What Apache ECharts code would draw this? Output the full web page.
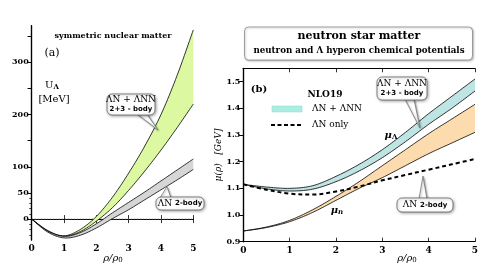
<!DOCTYPE html>
<html><head><meta charset="utf-8">
<script src="https://cdn.jsdelivr.net/npm/echarts@6/dist/echarts.min.js"></script>
<style>html,body{margin:0;padding:0;background:#fff}#c{width:491px;height:276px}</style>
</head><body><div id="c"></div>
<script>
// ---- Panel (a): symmetric nuclear matter, U_Lambda [MeV]
var rhoA = [0, 0.5, 1, 1.5, 2, 2.5, 3, 3.5, 4, 4.5, 5];
var grayLow   = [0, -25, -36, -31, -17, 1, 18, 37, 56, 75, 95];
var grayHigh  = [0, -23, -33, -26, -9, 12, 32, 52, 73, 94, 115];
var greenLow  = [0, -23, -33, -24, -4, 22, 55, 92, 132, 175, 220];
var greenHigh = [0, -22, -32, -20, 5, 42, 88, 140, 200, 275, 362];
var yTicksA = [0, 50, 100, 150, 200, 250, 300, 350];
var yLabelsA = [0, 50, 100, 200, 300];
var yMinorA = [-30, -20, -10, 10, 20, 30, 40];
// ---- Panel (b): neutron star matter, mu [GeV]
var rhoB = [0, 0.5, 1, 1.5, 2, 2.5, 3, 3.5, 4, 4.5, 5];
var lamLow  = [1.115, 1.098, 1.090, 1.097, 1.125, 1.165, 1.215, 1.275, 1.340, 1.400, 1.465];
var lamHigh = [1.115, 1.105, 1.100, 1.110, 1.145, 1.190, 1.245, 1.310, 1.380, 1.445, 1.510];
var lamOnly = [1.115, 1.095, 1.080, 1.077, 1.088, 1.107, 1.130, 1.150, 1.170, 1.190, 1.210];
var nLow    = [0.940, 0.953, 0.975, 1.010, 1.055, 1.100, 1.140, 1.185, 1.230, 1.270, 1.310];
var nHigh   = [0.940, 0.955, 0.980, 1.020, 1.070, 1.125, 1.185, 1.245, 1.305, 1.360, 1.415];
var yTicksB = [0.9, 1.0, 1.1, 1.2, 1.3, 1.4, 1.5];

function pairs(xs, ys){ return xs.map(function(x,i){return [x, ys[i]];}); }

var SERIF = "'DejaVu Serif', 'Liberation Serif', serif";
var SANS = "'DejaVu Sans', 'Liberation Sans', sans-serif";

// Catmull-Rom smoothing of pixel points (drawing only)
function crSample(pts, n){
  var out = [];
  for (var i = 0; i < pts.length - 1; i++){
    var p0 = pts[i-1] || pts[i], p1 = pts[i], p2 = pts[i+1], p3 = pts[i+2] || pts[i+1];
    for (var k = 0; k < n; k++){
      var t = k / n, t2 = t*t, t3 = t2*t;
      var f = function(a,b,c,d){ return 0.5*((2*b) + (-a+c)*t + (2*a-5*b+4*c-d)*t2 + (-a+3*b-3*c+d)*t3); };
      out.push([f(p0[0],p1[0],p2[0],p3[0]), f(p0[1],p1[1],p2[1],p3[1])]);
    }
  }
  out.push(pts[pts.length-1]);
  return out;
}

function band(xIdx, yIdx, xs, lo, hi, fill, z){
  return {type:'custom', xAxisIndex:xIdx, yAxisIndex:yIdx, z:z, clip:true,
    data: xs.map(function(x,i){return [x, lo[i], hi[i]];}),
    encode:{x:0, y:[1,2]},
    renderItem: function(params, api){
      if (params.dataIndex !== 0) return null;
      var L = crSample(xs.map(function(x,i){return api.coord([x, lo[i]]);}), 10);
      var H = crSample(xs.map(function(x,i){return api.coord([x, hi[i]]);}), 10);
      var poly = H.concat(L.slice().reverse());
      return {type:'group', children:[
        {type:'polygon', shape:{points:poly}, style:{fill:fill, stroke:null}},
        {type:'polyline', shape:{points:L}, style:{fill:null, stroke:'#000', lineWidth:0.8}},
        {type:'polyline', shape:{points:H}, style:{fill:null, stroke:'#000', lineWidth:0.8}}
      ]};
    }
  };
}

function callout(x, y, w, h, tip, base, lines){
  var els = [];
  els.push({type:'polygon', z:100, shape:{points:[[base[0], base[2]], tip, [base[1], base[2]]]},
    style:{fill:'#fff', stroke:'#777', lineWidth:0.8, shadowBlur:2, shadowColor:'rgba(0,0,0,0.35)', shadowOffsetX:1, shadowOffsetY:1}});
  els.push({type:'rect', z:101, shape:{x:x, y:y, width:w, height:h, r:5},
    style:{fill:'#fff', stroke:'#666', lineWidth:0.8, shadowBlur:3, shadowColor:'rgba(0,0,0,0.35)', shadowOffsetX:1, shadowOffsetY:1}});
  lines.forEach(function(l){
    els.push({type:'text', x:l.x, y:l.y, z:102, style:{text:l.t, rich:l.rich, fill:'#000', font:l.font, textAlign:'center', textVerticalAlign:'middle'}});
  });
  return els;
}
function txt(x, y, t, font, opts){
  var o = {type:'text', x:x, y:y, z:90, style:{text:t, font:font, fill:'#000', textAlign:'center', textVerticalAlign:'middle'}};
  if (opts) { for (var k in opts) { if (k === 'rich' || k === 'textAlign') o.style[k] = opts[k]; else o[k] = opts[k]; } }
  return o;
}

var chart = echarts.init(document.getElementById('c'), null, {renderer:'canvas'});

var subS = function(f){ return {font:f, fill:'#000', padding:[5,0,0,0]}; };
var graphics = [];
// Panel (a) texts
graphics.push(txt(113, 36, 'symmetric nuclear matter', "bold 8px "+SERIF));
graphics.push(txt(52, 53, '(a)', "11px "+SERIF));
graphics.push(txt(52, 85, 'U{s|Λ}', "10px "+SERIF, {rich:{s:subS("bold 7px "+SERIF)}}));
graphics.push(txt(54, 99, '[MeV]', "10px "+SERIF));
graphics.push(txt(113, 258, 'ρ/ρ{s|0}', "italic 10px "+SERIF, {rich:{s:subS("7px "+SERIF)}}));
graphics = graphics.concat(callout(107, 94, 48, 21, [158,130], [137,147,114],
  [{x:131, y:100, t:'ΛN + ΛNN', font:"9px "+SERIF}, {x:131, y:109.5, t:'2+3 - body', font:"bold 7px "+SANS}]));
graphics = graphics.concat(callout(156, 197, 48, 13, [167,186.5], [160,171,198],
  [{x:180, y:203.5, t:'ΛN {b|2-body}', rich:{b:{font:"bold 7px "+SANS, fill:'#000'}}, font:"9px "+SERIF}]));
// Panel (b) texts
graphics.push({type:'rect', z:80, shape:{x:244.5, y:27, width:228, height:33, r:4}, style:{fill:'#fff', stroke:'#888', lineWidth:0.8, shadowBlur:2, shadowColor:'rgba(0,0,0,0.25)', shadowOffsetX:1, shadowOffsetY:1}});
graphics.push(txt(359, 36, 'neutron star matter', "bold 11px "+SERIF));
graphics.push(txt(359, 51, 'neutron and Λ hyperon chemical potentials', "bold 8.7px "+SERIF));
graphics.push(txt(259, 89, '(b)', "bold 10px "+SERIF));
graphics.push(txt(325, 95, 'NLO19', "bold 9px "+SERIF));
graphics.push({type:'rect', z:90, shape:{x:272, y:106, width:30, height:6}, style:{fill:'#a8efe2', stroke:'#9cc', lineWidth:0.5}});
graphics.push(txt(312, 109, 'ΛN + ΛNN', "9px "+SERIF, {textAlign:'left'}));
graphics.push({type:'line', z:90, shape:{x1:271, y1:125, x2:302, y2:125}, style:{stroke:'#000', lineWidth:2, lineDash:[4,2.5]}});
graphics.push(txt(312, 125, 'ΛN only', "9px "+SERIF, {textAlign:'left'}));
graphics.push(txt(391, 135, 'μ{s|Λ}', "italic bold 10px "+SERIF, {rich:{s:subS("bold 7px "+SERIF)}}));
graphics.push(txt(337, 210, 'μ{s|n}', "italic bold 10px "+SERIF, {rich:{s:subS("italic bold 7px "+SERIF)}}));
graphics.push(txt(219, 155, 'μ(ρ)   [GeV]', "italic 9px "+SERIF, {rotation:Math.PI/2}));
graphics.push(txt(407, 258, 'ρ/ρ{s|0}', "italic 10px "+SERIF, {rich:{s:subS("7px "+SERIF)}}));
graphics = graphics.concat(callout(377, 77, 50, 23, [420,128], [405,414,99],
  [{x:402, y:83.5, t:'ΛN + ΛNN', font:"9px "+SERIF}, {x:402, y:93.5, t:'2+3 - body', font:"bold 7px "+SANS}]));
graphics = graphics.concat(callout(397, 198, 56, 14, [423,176], [419,427,199],
  [{x:425, y:205, t:'ΛN {b|2-body}', rich:{b:{font:"bold 7px "+SANS, fill:'#000'}}, font:"9px "+SERIF}]));

var axLine = {show:true, lineStyle:{color:'#000', width:1.2}};
function xAx(grid, pos, labels){
  return {type:'value', gridIndex:grid, position:pos, min:0, max:5, interval:1,
    axisLine:axLine, splitLine:{show:false},
    axisTick:{show:true, inside:true, length:4, lineStyle:{color:'#000', width:0.8}},
    axisLabel:{show:labels, margin:4, color:'#000', fontFamily:SERIF, fontWeight:'bold', fontSize:9}};
}
function yAx(grid, pos, min, max, ticks, labels, inside, fmt){
  return {type:'value', gridIndex:grid, position:pos, min:min, max:max,
    axisLine:axLine, splitLine:{show:false},
    axisTick:{show:true, inside:inside, length:4, customValues:ticks, lineStyle:{color:'#000', width:0.8}},
    axisLabel:{show:!!labels, customValues:labels||ticks, margin:3, color:'#000', fontFamily:SERIF, fontWeight:'bold', fontSize:8, formatter:fmt}};
}

var series = [];
series.push(band(0, 0, rhoA, greenLow, greenHigh, '#dcf9a2', 3));
series.push(band(0, 0, rhoA, grayLow, grayHigh, '#d6d6d6', 4));
series.push({type:'line', xAxisIndex:0, yAxisIndex:0, data:[[0,0],[5,0]], showSymbol:false, symbol:'none', z:2,
  lineStyle:{color:'#666', width:0.8, type:[1.5,1.5]}});
series.push(band(2, 3, rhoB, nLow, nHigh, '#fcdcae', 3));
series.push(band(2, 3, rhoB, lamLow, lamHigh, '#bfe4e4', 4));
series.push({type:'line', xAxisIndex:2, yAxisIndex:3, data:pairs(rhoB, lamOnly), smooth:0.35, showSymbol:false, symbol:'none', z:5,
  lineStyle:{color:'#000', width:2, type:[4,3]}});

chart.setOption({
  animation:false,
  backgroundColor:'#fff',
  grid:[
    {left:31.7, top:25.7, width:161.6, height:214.3, show:false},
    {left:243.3, top:68.3, width:231.7, height:173.4, show:false}
  ],
  xAxis:[ xAx(0,'bottom',true), xAx(0,'top',false), xAx(1,'bottom',true), xAx(1,'top',false) ],
  yAxis:[
    yAx(0,'left',-40,370,yTicksA,yLabelsA,false),
    yAx(0,'right',-40,370,yTicksA,null,true),
    {type:'value', gridIndex:0, position:'left', min:-40, max:370, axisLine:{show:false}, splitLine:{show:false},
     axisTick:{show:true, inside:false, length:2.5, customValues:yMinorA, lineStyle:{color:'#000', width:0.7}}, axisLabel:{show:false}},
    yAx(1,'left',0.9,1.55,yTicksB,yTicksB,false,function(v){return v.toFixed(1);}),
    yAx(1,'right',0.9,1.55,yTicksB,null,true)
  ],
  series:series,
  graphic:graphics
});
</script></body></html>
